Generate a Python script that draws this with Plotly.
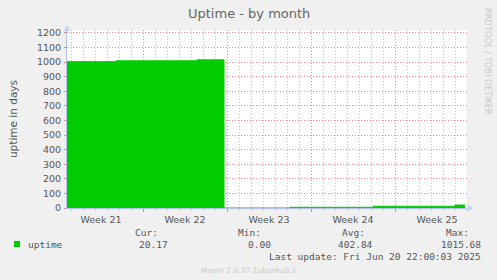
import plotly.graph_objects as go

# ---- data ----
days = [0.667, 4.75, 11.5, 13.75, 19.25, 26.17, 33.0, 33.83]
uptime = [1003, 1009, 1015.68, 0, 5, 12, 20.17, 20.17]
week_labels = ["Week 21", "Week 22", "Week 23", "Week 24", "Week 25"]
week_centers = [3.5, 10.5, 17.5, 24.5, 31.5]
week_bounds = [7, 14, 21, 28]
y_ticks = list(range(0, 1201, 100))
stats_heads = ["Cur:", "Min:", "Avg:", "Max:"]
stats_vals = ["20.17", "0.00", "402.84", "1015.68"]

W, H = 497, 280
L, R, T, B = 67, 30, 30, 72
PW, PH = W - L - R, H - T - B

def px(x):
    return (x - L) / PW

def py(y):
    return 1 - (y - T) / PH

GREEN = "#00CC00"
TXT = "#555555"
MONO = "DejaVu Sans Mono"
SANS = "DejaVu Sans"
MAJ = "#F08A8A"
MIN = "#C4C4C4"
DOT_MAJ = "1px,2px"
DOT_MIN = "1px,2px"

fig = go.Figure()
fig.add_trace(go.Scatter(
    x=days, y=uptime, mode="lines", line=dict(shape="hv", color=GREEN, width=1),
    fill="tozeroy", fillcolor=GREEN, showlegend=False, hoverinfo="skip"))
fig.add_trace(go.Scatter(x=[days[0], days[-1]], y=[0, 0], xaxis="x2", mode="lines",
                         line=dict(width=0), showlegend=False, hoverinfo="skip"))

fig.update_layout(
    width=W, height=H,
    margin=dict(l=L, r=R, t=T, b=B, pad=0),
    paper_bgcolor="#F0F0F0", plot_bgcolor="#FFFFFF",
    xaxis=dict(range=[0.667, 34.0], tickvals=week_bounds, ticktext=["", "", "", ""],
               showgrid=True, gridcolor=MAJ, griddash=DOT_MAJ, gridwidth=1,
               ticks="outside", ticklen=3, tickcolor="#F08080",
               minor=dict(dtick=1, tick0=0, showgrid=True, gridcolor=MIN,
                          griddash=DOT_MIN, ticks="outside", ticklen=2, tickcolor="#C8C8C8"),
               zeroline=False, showline=True, linecolor="#B0C0E8", linewidth=1,
               fixedrange=True, layer="above traces"),
    xaxis2=dict(range=[0.667, 34.0], overlaying="x", side="bottom", tickvals=week_centers,
                ticktext=week_labels, showgrid=False, zeroline=False, showline=False,
                ticks="", tickfont=dict(family=SANS, size=9.5, color=TXT), ticklabelstandoff=4),
    yaxis=dict(range=[0, 1220], tickvals=y_ticks, showgrid=True,
               gridcolor=MAJ, griddash=DOT_MAJ, gridwidth=1,
               zeroline=False, showline=True, linecolor="#B0C0E8", linewidth=1,
               ticks="outside", ticklen=2, tickcolor="#F08080",
               tickfont=dict(family=SANS, size=9.5, color=TXT), ticklabelstandoff=1,
               title=dict(text="uptime in days", font=dict(family=SANS, size=10.5, color=TXT),
                          standoff=17)),
    showlegend=False,
)

ann = []
ann.append(dict(text="Uptime - by month", x=0.5 + (248.5 - (L + PW / 2)) / PW, xref="paper",
                y=py(13), yref="paper",
                xanchor="center", yanchor="middle", showarrow=False,
                font=dict(family=SANS, size=13, color="#666666")))
ann.append(dict(text="RRDTOOL / TOBI OETIKER", x=px(488), y=py(61), xref="paper", yref="paper",
                textangle=90, showarrow=False, xanchor="center", yanchor="middle",
                font=dict(family=SANS, size=8.3, color="#C8C8C8")))
rights_head = [160, 263, 367, 471]
rights_val = [170, 273, 375, 483]
for h, v, rh, rv in zip(stats_heads, stats_vals, rights_head, rights_val):
    ann.append(dict(text=h, x=px(rh), y=py(232), xref="paper", yref="paper", xanchor="right",
                    yanchor="middle", showarrow=False, font=dict(family=MONO, size=9.5, color=TXT)))
    ann.append(dict(text=v, x=px(rv), y=py(244), xref="paper", yref="paper", xanchor="right",
                    yanchor="middle", showarrow=False, font=dict(family=MONO, size=9.5, color=TXT)))
ann.append(dict(text="uptime", x=px(26), y=py(244), xref="paper", yref="paper", xanchor="left",
                yanchor="middle", showarrow=False, font=dict(family=MONO, size=9.5, color=TXT)))
ann.append(dict(text="Last update: Fri Jun 20 22:00:03 2025", x=px(483), y=py(256), xref="paper",
                yref="paper", xanchor="right", yanchor="middle", showarrow=False,
                font=dict(family=MONO, size=9.5, color=TXT)))
ann.append(dict(text="Munin 2.0.37-1ubuntu0.1", x=0.5 + (248.5 - (L + PW / 2)) / PW, y=py(270),
                xref="paper", yref="paper", xanchor="center", yanchor="middle", showarrow=False,
                font=dict(family=SANS, size=7.5, color="#C8C8C8")))
fig.update_layout(annotations=ann)

shapes = [
    dict(type="rect", xref="paper", yref="paper", x0=px(14), x1=px(20), y0=py(241), y1=py(247),
         fillcolor=GREEN, line=dict(width=0)),
    dict(type="path", xref="paper", yref="paper",
         path=f"M {px(64)},{py(31)} L {px(70)},{py(31)} L {px(67)},{py(25)} Z",
         fillcolor="#C8D0F8", line=dict(width=0)),
    dict(type="path", xref="paper", yref="paper",
         path=f"M {px(468)},{py(205)} L {px(468)},{py(211)} L {px(474)},{py(208)} Z",
         fillcolor="#C8D0F8", line=dict(width=0)),
]
fig.update_layout(shapes=shapes)

fig.write_html("out.html")
